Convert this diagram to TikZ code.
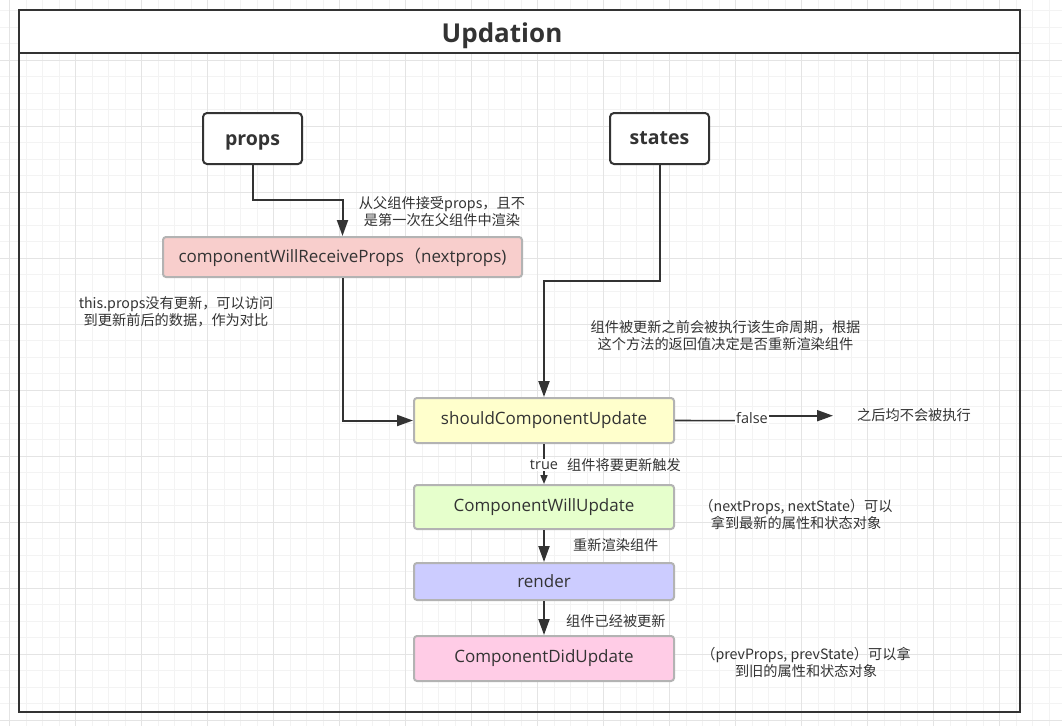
\documentclass[tikz,border=0pt]{standalone}
\usepackage{fontspec}
\setmainfont{Open Sans}
\newfontfamily\cjk{Noto Sans CJK SC}
\usetikzlibrary{arrows.meta}
\definecolor{ink}{HTML}{333333}
\definecolor{gminor}{HTML}{F3F3F3}
\definecolor{gmajor}{HTML}{E4E4E4}
\definecolor{bgray}{HTML}{B3B3B3}
\definecolor{cred}{HTML}{F8CECC}
\definecolor{cyel}{HTML}{FFFFCC}
\definecolor{cgrn}{HTML}{E6FFCC}
\definecolor{cblu}{HTML}{CCCCFF}
\definecolor{cpnk}{HTML}{FFCCE6}
\tikzset{
  minorgrid/.style={draw=gminor, line width=1pt},
  majorgrid/.style={draw=gmajor, line width=1pt},
  srcbox/.style={draw=ink, line width=2pt, rounded corners=4pt, fill=white,
    minimum width=99pt, minimum height=51pt, text=ink,
    font=\fontsize{19.5}{22}\selectfont\bfseries, inner sep=0pt},
  lifebox/.style={draw=bgray, line width=2pt, rounded corners=3pt,
    minimum width=260pt, text=ink, font=\fontsize{17}{20}\selectfont, inner sep=0pt},
  note/.style={text=ink, align=center, font=\cjk\fontsize{14.2}{17}\selectfont, inner sep=0pt},
  arr/.style={draw=ink, line width=2pt, -{Triangle[length=16pt,width=11pt]}},
  thinarr/.style={draw=ink, line width=1.6pt, -{Triangle[length=9pt,width=7pt]}},
  lbl/.style={fill=white, text=ink, inner sep=1pt, font=\fontsize{14.5}{16}\selectfont},
}
\begin{document}
\begin{tikzpicture}[x=1pt,y=-1pt]
\useasboundingbox (0,0) rectangle (1062,726);
\fill[white] (0,0) rectangle (1062,726);
% grid
\foreach \i in {0,...,63} \draw[minorgrid] ({9.7+16.5*\i},0) -- ({9.7+16.5*\i},726);
\foreach \i in {0,...,43} \draw[minorgrid] (0,{10.8+16.5*\i}) -- (1062,{10.8+16.5*\i});
\foreach \i in {0,...,15} \draw[majorgrid] ({9.7+66*\i},0) -- ({9.7+66*\i},726);
\foreach \i in {0,...,10} \draw[majorgrid] (0,{60.3+66*\i}) -- (1062,{60.3+66*\i});
% frame
\fill[white] (19,10) rectangle (1020,53.3);
\draw[ink, line width=2.2pt] (19,10) rectangle (1020,712);
\draw[ink, line width=2.2pt] (19,53.3) -- (1020,53.3);
\node[text=ink, font=\fontsize{26}{30}\selectfont\bfseries] (title) at (502,35.5) {Updation};
% source boxes
\node[srcbox, text height=13pt, text depth=0pt] (props) at (252.5,138.5) {props};
\node[srcbox] (states) at (659.5,138.5) {states};
% lifecycle boxes
\node[lifebox, fill=cred, minimum width=359pt, minimum height=40pt] (cwrp) at (342.5,257) {componentWillReceiveProps{\cjk （}nextprops)};
\node[lifebox, fill=cyel, minimum height=45pt] (scu) at (544,420.5) {shouldComponentUpdate};
\node[lifebox, fill=cgrn, minimum height=44pt] (cwu) at (544,507) {ComponentWillUpdate};
\node[lifebox, fill=cblu, minimum height=37pt] (render) at (544,581.5) {render};
\node[lifebox, fill=cpnk, minimum height=45pt] (cdu) at (544,658.5) {ComponentDidUpdate};
% end text
\node[note] (never) at (914,415) {之后均不会被执行};
% annotations
\node[note] (n1) at (442,212) {从父组件接受props，且不\\是第一次在父组件中渲染};
\node[note] (n2) at (176,312) {this.props没有更新，可以访问\\到更新前后的数据，作为对比};
\node[note] (n3) at (725.5,336) {组件被更新之前会被执行该生命周期，根据\\这个方法的返回值决定是否重新渲染组件};
\node[note] (n4) at (796,514) {（nextProps, nextState）可以\\拿到最新的属性和状态对象};
\node[note] (n5) at (806,662) {（prevProps, prevState）可以拿\\到旧的属性和状态对象};
\node[note, anchor=west] (n6) at (567,465) {组件将要更新触发};
\node[note, anchor=west] (n7) at (573,545) {重新渲染组件};
\node[note, anchor=west] (n8) at (566,621) {组件已经被更新};
% connectors
\coordinate (c1) at (342.5,200);
\coordinate (c2) at (544,281);
\coordinate (fend) at (833,415.7);
\draw[arr] (props.south) |- (c1) -- (cwrp.north);
\draw[arr] (cwrp.south) |- (scu.west);
\draw[arr] (states.south) |- (c2) -- (scu.north);
\draw[thinarr] (scu.south) -- (cwu.north);
\node[lbl] (true) at (544,465) {true};
\draw[ink, line width=1.6pt] (scu.east) -- (751,420.7) -- (751,415.7);
\draw[arr] (751,415.7) -- (fend);
\node[lbl] (false) at (752,418) {false};
\draw[arr] (cwu.south) -- (render.north);
\draw[arr] (render.south) -- (cdu.north);
\end{tikzpicture}
\end{document}
